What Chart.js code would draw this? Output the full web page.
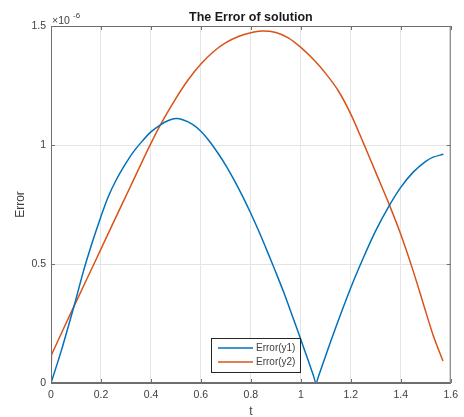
<!DOCTYPE html>
<html>
<head>
<meta charset="utf-8">
<script src="https://cdn.jsdelivr.net/npm/chart.js@4/dist/chart.umd.min.js"></script>
<style>
  html, body { margin: 0; padding: 0; background: #fff; }
  #wrap { width: 464px; height: 417px; }
</style>
</head>
<body>
<div id="wrap"><canvas id="errChart" width="464" height="417"></canvas></div>
<script>
// values, y in units of 1e-6
const t1 = [0, 0.041, 0.094, 0.13, 0.165, 0.2, 0.23, 0.262, 0.295, 0.327, 0.36, 0.4, 0.438, 0.47, 0.5, 0.53, 0.565, 0.6, 0.635, 0.672, 0.705, 0.737, 0.77, 0.8, 0.835, 0.867, 0.9, 0.932, 0.965, 1.0, 1.03, 1.05, 1.061, 1.072, 1.13, 1.2, 1.25, 1.3, 1.35, 1.4, 1.45, 1.5, 1.53, 1.571];
const err1 = [0, 0.135, 0.33, 0.47, 0.59, 0.7, 0.785, 0.855, 0.915, 0.967, 1.01, 1.055, 1.085, 1.103, 1.111, 1.105, 1.088, 1.058, 1.015, 0.96, 0.905, 0.845, 0.778, 0.712, 0.63, 0.55, 0.465, 0.38, 0.285, 0.183, 0.093, 0.033, 0, 0.032, 0.205, 0.4, 0.525, 0.64, 0.738, 0.822, 0.886, 0.931, 0.949, 0.961];

const t2 = [0, 0.002, 0.004, 0.05, 0.1, 0.172, 0.25, 0.32, 0.392, 0.438, 0.5, 0.55, 0.6, 0.65, 0.7, 0.75, 0.8, 0.843, 0.9, 0.95, 1.0, 1.05, 1.1, 1.15, 1.2, 1.25, 1.3, 1.35, 1.4, 1.45, 1.5, 1.53, 1.569];
const err2 = [0, 0.118, 0.123, 0.228, 0.34, 0.5, 0.675, 0.83, 0.99, 1.085, 1.196, 1.275, 1.34, 1.392, 1.43, 1.456, 1.472, 1.479, 1.473, 1.45, 1.41, 1.36, 1.3, 1.228, 1.13, 1.01, 0.885, 0.76, 0.625, 0.47, 0.3, 0.2, 0.092];

const xTicks = [0, 0.2, 0.4, 0.6, 0.8, 1, 1.2, 1.4, 1.6];
const yTicks = [0, 0.5, 1, 1.5];

const seriesNames = ['Error(y1)', 'Error(y2)'];
const seriesColors = ['#0072BD', '#D95319'];

const textColor = '#404040';
const axisColor = '#6e6e6e';
const gridColor = '#e4e4e4';
const fontFam = '"Liberation Sans", Arial, sans-serif';

function toPoints(xs, ys) {
  return xs.map((x, i) => ({ x: x, y: ys[i] }));
}

// box, inner ticks, titles, exponent and legend
const matlabDecor = {
  id: 'matlabDecor',
  afterDraw(chart) {
    const ctx = chart.ctx;
    const a = chart.chartArea;
    const xs = chart.scales.x, ys = chart.scales.y;
    ctx.save();

    ctx.strokeStyle = axisColor;
    ctx.lineWidth = 1;
    ctx.strokeRect(a.left + 0.5, a.top + 0.5, a.right - a.left - 1, a.bottom - a.top - 1);

    // inward tick marks
    ctx.beginPath();
    xTicks.forEach(v => {
      const px = Math.round(xs.getPixelForValue(v)) + 0.5;
      ctx.moveTo(px, a.bottom); ctx.lineTo(px, a.bottom - 4);
      ctx.moveTo(px, a.top); ctx.lineTo(px, a.top + 4);
    });
    yTicks.forEach(v => {
      const py = Math.round(ys.getPixelForValue(v)) + 0.5;
      ctx.moveTo(a.left, py); ctx.lineTo(a.left + 4, py);
      ctx.moveTo(a.right, py); ctx.lineTo(a.right - 4, py);
    });
    ctx.stroke();

    // title
    ctx.fillStyle = '#1a1a1a';
    ctx.textAlign = 'center';
    ctx.textBaseline = 'alphabetic';
    ctx.font = 'bold 12.5px ' + fontFam;
    ctx.fillText('The Error of solution', (a.left + a.right) / 2, 21);

    // axis labels
    ctx.fillStyle = textColor;
    ctx.font = '12px ' + fontFam;
    ctx.fillText('t', (a.left + a.right) / 2, 415);
    ctx.save();
    ctx.translate(24, (a.top + a.bottom) / 2);
    ctx.rotate(-Math.PI / 2);
    ctx.fillText('Error', 0, 0);
    ctx.restore();

    // exponent
    ctx.textAlign = 'left';
    ctx.font = '10.5px ' + fontFam;
    ctx.fillText('\u00d710', a.left + 1, 24);
    ctx.font = '8px ' + fontFam;
    ctx.fillText('-6', a.left + 22, 18);

    // legend
    const lx = 211, ly = 338, lw = 89, lh = 34;
    ctx.fillStyle = '#ffffff';
    ctx.fillRect(lx, ly, lw, lh);
    ctx.strokeStyle = '#262626';
    ctx.lineWidth = 1;
    ctx.strokeRect(lx + 0.5, ly + 0.5, lw, lh);
    ctx.font = '10px ' + fontFam;
    ctx.textBaseline = 'middle';
    chart.data.datasets.forEach((ds, i) => {
      const yy = ly + 10 + i * 14;
      ctx.strokeStyle = ds.borderColor;
      ctx.lineWidth = 1.5;
      ctx.beginPath();
      ctx.moveTo(lx + 7, yy); ctx.lineTo(lx + 42, yy);
      ctx.stroke();
      ctx.fillStyle = textColor;
      ctx.fillText(ds.label, lx + 45, yy + 0.5);
    });
    ctx.restore();
  }
};

new Chart(document.getElementById('errChart').getContext('2d'), {
  type: 'line',
  data: {
    datasets: [
      { label: seriesNames[0], data: toPoints(t1, err1), borderColor: seriesColors[0], borderWidth: 1.5, pointRadius: 0, tension: 0.3, fill: false },
      { label: seriesNames[1], data: toPoints(t2, err2), borderColor: seriesColors[1], borderWidth: 1.5, pointRadius: 0, tension: 0.3, fill: false }
    ]
  },
  options: {
    responsive: false,
    animation: false,
    devicePixelRatio: 1,
    layout: { padding: { top: 26, right: 3, left: 0, bottom: 0 } },
    plugins: { legend: { display: false }, tooltip: { enabled: false } },
    scales: {
      x: {
        type: 'linear', min: 0, max: 1.6,
        afterBuildTicks: s => { s.ticks = xTicks.map(v => ({ value: v })); },
        afterFit: s => { s.height = 34; },
        grid: { color: gridColor, drawTicks: false },
        border: { color: axisColor },
        ticks: { padding: 6, color: textColor, font: { family: fontFam, size: 10.5 }, callback: v => String(v) }
      },
      y: {
        type: 'linear', min: 0, max: 1.5,
        afterBuildTicks: s => { s.ticks = yTicks.map(v => ({ value: v })); },
        afterFit: s => { s.width = 51; },
        grid: { color: gridColor, drawTicks: false },
        border: { color: axisColor },
        ticks: { padding: 5, color: textColor, font: { family: fontFam, size: 10.5 }, callback: v => String(v) }
      }
    }
  },
  plugins: [matlabDecor]
});
</script>
</body>
</html>
